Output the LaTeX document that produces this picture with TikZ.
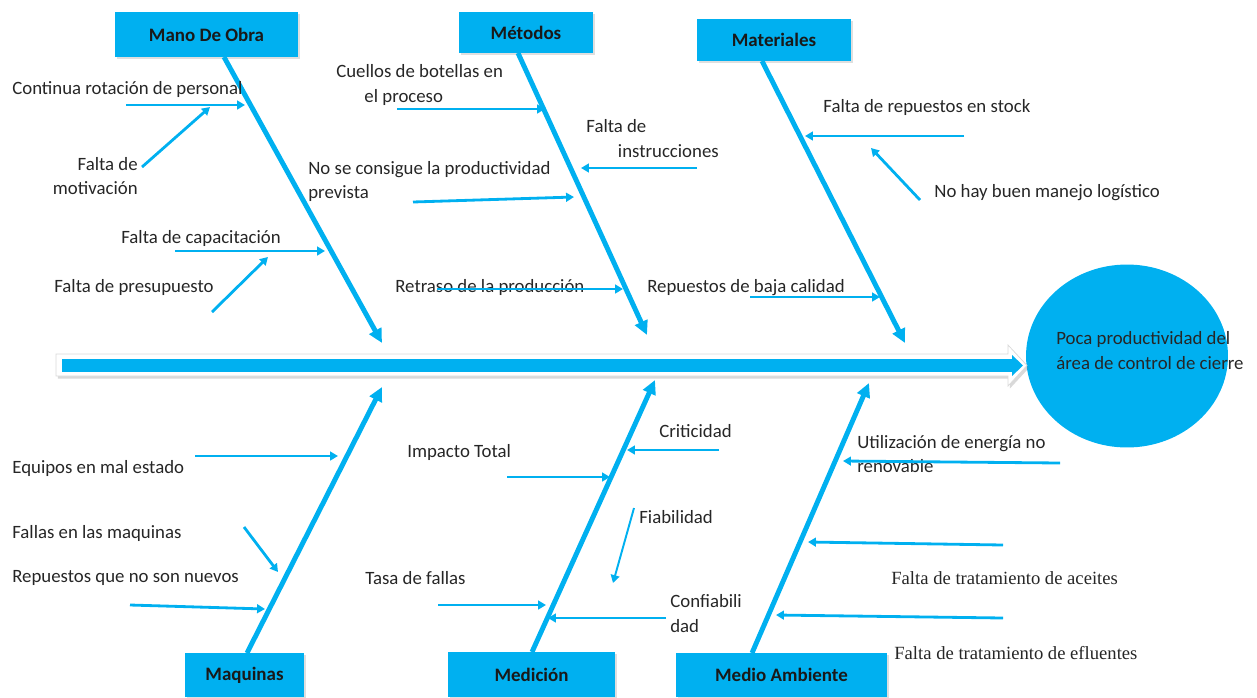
\documentclass[tikz,border=0pt]{standalone}
\usepackage{fontspec}
\setmainfont{Carlito}
\newfontfamily\timesfont{Liberation Serif}
\usetikzlibrary{arrows.meta,shapes.geometric,shadows}
\definecolor{fishblue}{RGB}{0,176,240}
\tikzset{
  category/.style={fill=fishblue, inner sep=0pt, text=black!90,
    font=\bfseries\fontsize{10.8}{12}\selectfont,
    drop shadow={opacity=0.25, shadow xshift=1pt, shadow yshift=-1pt}},
  bone/.style={draw=fishblue, line width=2.8pt, -{Triangle[length=8pt,width=7.5pt]}},
  cause/.style={draw=fishblue, line width=1.6pt, -{Triangle[length=4.5pt,width=5pt]}},
  txt/.style={anchor=west, inner sep=0pt, align=left, text=black!85,
    font=\fontsize{10.7}{14}\selectfont},
  serif txt/.style={txt, font=\timesfont\fontsize{10.6}{14}\selectfont},
  spine/.style={draw=fishblue, line width=7.4pt, -{Triangle[length=6.2pt,width=11.5pt]}}
}
\begin{document}
\begin{tikzpicture}[x=0.02cm, y=-0.02cm]
    \useasboundingbox (0,0) rectangle (1257,697);
    % effect
    \node[ellipse, fill=fishblue, minimum width=4.04cm, minimum height=3.66cm] (effect) at (1127,356) {};
    \node[txt] (effect text) at (1056,350.5) {Poca productividad del\\área de control de cierre};
    % spine
    \draw[fill=white, draw=black!15, drop shadow={opacity=0.3, shadow xshift=1pt, shadow yshift=-1.5pt}]
        (56,354) -- (1008,354) -- (1008,345) -- (1027,365.5) -- (1008,386) -- (1008,376) -- (56,376) -- cycle;
    \coordinate (tail) at (62,365.5);
    \coordinate (head) at (1023,365.5);
    \draw[spine] (tail) -- (head);
    % categories
    \node[category, minimum width=3.66cm, minimum height=0.9cm] (mano) at (206.5,34.5) {Mano De Obra};
    \node[category, minimum width=2.68cm, minimum height=0.82cm] (metodos) at (526,32.5) {Métodos};
    \node[category, minimum width=3.08cm, minimum height=0.84cm] (materiales) at (774,40) {Materiales};
    \node[category, minimum width=2.38cm, minimum height=0.88cm] (maquinas) at (244.5,675) {Maquinas};
    \node[category, minimum width=3.34cm, minimum height=0.9cm] (medicion) at (531.5,674.5) {Medición};
    \node[category, minimum width=4.22cm, minimum height=0.88cm] (medio) at (781.5,675) {Medio Ambiente};
    % bones
    \coordinate (mano root) at (224,57);       \coordinate (mano tip) at (382,343);
    \coordinate (metodos root) at (518,53);    \coordinate (metodos tip) at (647,335);
    \coordinate (materiales root) at (762,61); \coordinate (materiales tip) at (905,343);
    \coordinate (maquinas root) at (247,653);  \coordinate (maquinas tip) at (382,387);
    \coordinate (medicion root) at (532,652);  \coordinate (medicion tip) at (655,380);
    \coordinate (medio root) at (752,653);     \coordinate (medio tip) at (869,383);
    \draw[bone] (mano root) -- (mano tip);
    \draw[bone] (metodos root) -- (metodos tip);
    \draw[bone] (materiales root) -- (materiales tip);
    \draw[bone] (maquinas root) -- (maquinas tip);
    \draw[bone] (medicion root) -- (medicion tip);
    \draw[bone] (medio root) -- (medio tip);
    % mano de obra
    \node[txt] (rotacion) at (12,89) {Continua rotación de personal};
    \node[txt, anchor=east, align=right] (motivacion) at (138,176) {Falta de\\motivación};
    \node[txt] (capacitacion) at (121,238) {Falta de capacitación};
    \node[txt] (presupuesto) at (54,287) {Falta de presupuesto};
    \coordinate (a1) at (126,105); \coordinate (b1) at (245,105);
    \coordinate (a2) at (142,167); \coordinate (b2) at (210,107);
    \coordinate (a3) at (175,251); \coordinate (b3) at (325,251);
    \coordinate (a4) at (212,312); \coordinate (b4) at (268,257);
    \draw[cause] (a1) -- (b1);
    \draw[cause] (a2) -- (b2);
    \draw[cause] (a3) -- (b3);
    \draw[cause] (a4) -- (b4);
    % metodos
    \node[txt] (cuellos) at (336,85) {Cuellos de botellas en\\\hspace*{16pt}el proceso};
    \node[txt] (instrucciones) at (586,138.5) {Falta de\\\hspace*{18pt}instrucciones};
    \node[txt] (prevista) at (308,181.5) {No se consigue la productividad\\prevista};
    \node[txt] (retraso) at (395,287) {Retraso de la producción};
    \coordinate (a5) at (397,109); \coordinate (b5) at (545,109);
    \coordinate (a6) at (697,168); \coordinate (b6) at (581,168);
    \coordinate (a7) at (413,202); \coordinate (b7) at (574,197);
    \coordinate (a8) at (437,289); \coordinate (b8) at (623,289);
    \draw[cause] (a5) -- (b5);
    \draw[cause] (a6) -- (b6);
    \draw[cause] (a7) -- (b7);
    \draw[cause] (a8) -- (b8);
    % materiales
    \node[txt] (stock) at (823,107) {Falta de repuestos en stock};
    \node[txt] (logistico) at (934,193) {No hay buen manejo logístico};
    \node[txt] (calidad) at (647,288) {Repuestos de baja calidad};
    \coordinate (a9) at (964,136);  \coordinate (b9) at (805,136);
    \coordinate (a10) at (920,200); \coordinate (b10) at (871,148);
    \coordinate (a11) at (750,297); \coordinate (b11) at (880,297);
    \draw[cause] (a9) -- (b9);
    \draw[cause] (a10) -- (b10);
    \draw[cause] (a11) -- (b11);
    % maquinas
    \node[txt] (equipos) at (12,468) {Equipos en mal estado};
    \node[txt] (fallas) at (12,533) {Fallas en las maquinas};
    \node[txt] (nuevos) at (12,578) {Repuestos que no son nuevos};
    \coordinate (a12) at (195,456); \coordinate (b12) at (338,456);
    \coordinate (a13) at (244,527); \coordinate (b13) at (278,572);
    \coordinate (a14) at (130,605); \coordinate (b14) at (265,609);
    \draw[cause] (a12) -- (b12);
    \draw[cause] (a13) -- (b13);
    \draw[cause] (a14) -- (b14);
    % medicion
    \node[txt] (criticidad) at (659,431) {Criticidad};
    \node[txt] (impacto) at (407,452) {Impacto Total};
    \node[txt] (fiabilidad) at (639,517) {Fiabilidad};
    \node[txt] (tasa) at (365,578) {Tasa de fallas};
    \node[txt] (confiabilidad) at (670,613.5) {Confiabili\\dad};
    \coordinate (a15) at (719,450); \coordinate (b15) at (627,450);
    \coordinate (a16) at (507,477); \coordinate (b16) at (610,477);
    \coordinate (a17) at (634,508); \coordinate (b17) at (613,583);
    \coordinate (a18) at (438,605); \coordinate (b18) at (546,605);
    \coordinate (a19) at (666,618); \coordinate (b19) at (548,618);
    \draw[cause] (a15) -- (b15);
    \draw[cause] (a16) -- (b16);
    \draw[cause, line width=1.1pt] (a17) -- (b17);
    \draw[cause] (a18) -- (b18);
    \draw[cause] (a19) -- (b19);
    % medio ambiente
    \node[txt] (energia) at (857,454) {Utilización de energía no\\renovable};
    \node[serif txt] (aceites) at (891,578) {Falta de tratamiento de aceites};
    \node[serif txt] (efluentes) at (894,653) {Falta de tratamiento de efluentes};
    \coordinate (a20) at (1060,463); \coordinate (b20) at (843,461);
    \coordinate (a21) at (1003,545); \coordinate (b21) at (808,542);
    \coordinate (a22) at (1003,618); \coordinate (b22) at (776,615);
    \draw[cause] (a20) -- (b20);
    \draw[cause] (a21) -- (b21);
    \draw[cause] (a22) -- (b22);
\end{tikzpicture}
\end{document}
